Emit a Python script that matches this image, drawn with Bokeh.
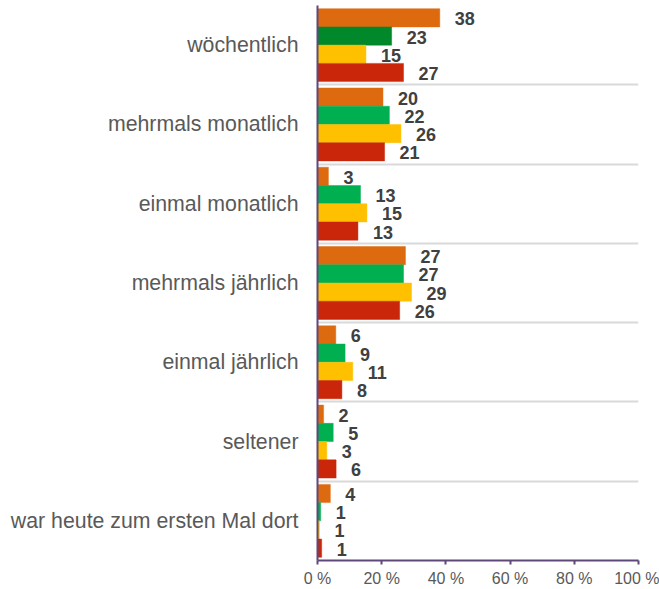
from bokeh.plotting import figure
from bokeh.models import ColumnDataSource, Range1d, FixedTicker
from bokeh.embed import file_html
from bokeh.resources import INLINE
from bokeh.core.properties import value

categories = ["wöchentlich", "mehrmals monatlich", "einmal monatlich",
              "mehrmals jährlich", "einmal jährlich", "seltener",
              "war heute zum ersten Mal dort"]

# bar lengths (percent)
orange = [38.1, 20.4, 3.4, 27.4, 5.7, 1.9, 4.0]
green = [23.1, 22.4, 13.4, 26.8, 8.6, 4.9, 1.0]
yellow = [15.1, 26.0, 15.4, 29.3, 11.0, 2.9, 0.6]
red = [26.8, 20.9, 12.6, 25.6, 7.6, 5.8, 1.3]

# data labels as printed
orange_labels = [38, 20, 3, 27, 6, 2, 4]
green_labels = [23, 22, 13, 27, 9, 5, 1]
yellow_labels = [15, 26, 15, 29, 11, 3, 1]
red_labels = [27, 21, 13, 26, 8, 6, 1]

series_values = [orange, green, yellow, red]
series_labels = [orange_labels, green_labels, yellow_labels, red_labels]
series_colors = ["#DE6A10", "#00B050", "#FFC000", "#C9260A"]
highlight_color = "#00882B"  # first green bar is darker

x_ticks = [0, 20, 40, 60, 80, 100]
x_tick_labels = ["0 %", "20 %", "40 %", "60 %", "80 %", "100 %"]

n = len(categories)
bar_h = 0.23
offsets = [1.5 * bar_h, 0.5 * bar_h, -0.5 * bar_h, -1.5 * bar_h]

ys, rights, fills, labs = [], [], [], []
for s, vals in enumerate(series_values):
    for i, v in enumerate(vals):
        ys.append((n - 1 - i) + 0.5 + offsets[s])
        rights.append(v)
        c = series_colors[s]
        if s == 1 and i == 0:
            c = highlight_color
        fills.append(c)
        labs.append(str(series_labels[s][i]))

src = ColumnDataSource(dict(y=ys, right=rights, fill=fills, label=labs))

p = figure(width=659, height=589, output_backend="svg", toolbar_location=None,
           x_range=Range1d(0, 100), y_range=Range1d(0, n),
           min_border_left=317, min_border_right=21, min_border_top=5,
           min_border_bottom=27)
p.outline_line_color = None
p.background_fill_color = "white"
p.border_fill_color = "white"

p.hbar(y="y", right="right", left=0, height=bar_h, source=src,
       fill_color="fill", line_color="fill", line_alpha=0.45, line_width=1)

p.text(x="right", y="y", text="label", source=src, x_offset=15, y_offset=1,
       text_align="left", text_baseline="middle",
       text_font=value("Liberation Sans"), text_font_style="bold",
       text_font_size="18px", text_color="#404040")

axis_color = "#5F497A"
# x axis
p.xaxis.ticker = FixedTicker(ticks=x_ticks)
p.xaxis.major_label_overrides = {t: l for t, l in zip(x_ticks, x_tick_labels)}
p.xaxis.axis_line_color = axis_color
p.xaxis.axis_line_width = 2
p.xaxis.major_tick_line_color = axis_color
p.xaxis.major_tick_line_width = 2
p.xaxis.major_tick_out = 4
p.xaxis.major_tick_in = 0
p.xaxis.minor_tick_line_color = None
p.xaxis.major_label_standoff = 5
p.xaxis.major_label_text_font = "Liberation Sans"
p.xaxis.major_label_text_font_size = "16px"
p.xaxis.major_label_text_color = "#595959"

# y axis
centers = [(n - 1 - i) + 0.5 for i in range(n)]
p.yaxis.ticker = FixedTicker(ticks=centers)
p.yaxis.major_label_overrides = {c: categories[i] for i, c in enumerate(centers)}
p.yaxis.axis_line_color = axis_color
p.yaxis.axis_line_width = 2
p.yaxis.major_tick_line_color = None
p.yaxis.major_tick_out = 0
p.yaxis.major_tick_in = 0
p.yaxis.minor_tick_line_color = None
p.yaxis.major_label_standoff = 19
p.yaxis.major_label_text_font = "Liberation Sans"
p.yaxis.major_label_text_font_size = "21.3px"
p.yaxis.major_label_text_color = "#595959"

# grid lines between groups
p.xgrid.grid_line_color = None
p.ygrid.ticker = FixedTicker(ticks=list(range(1, n + 1)))
p.ygrid.grid_line_color = "#D9D9D9"
p.ygrid.grid_line_width = 2

open("out.html", "w").write(file_html(p, INLINE))
